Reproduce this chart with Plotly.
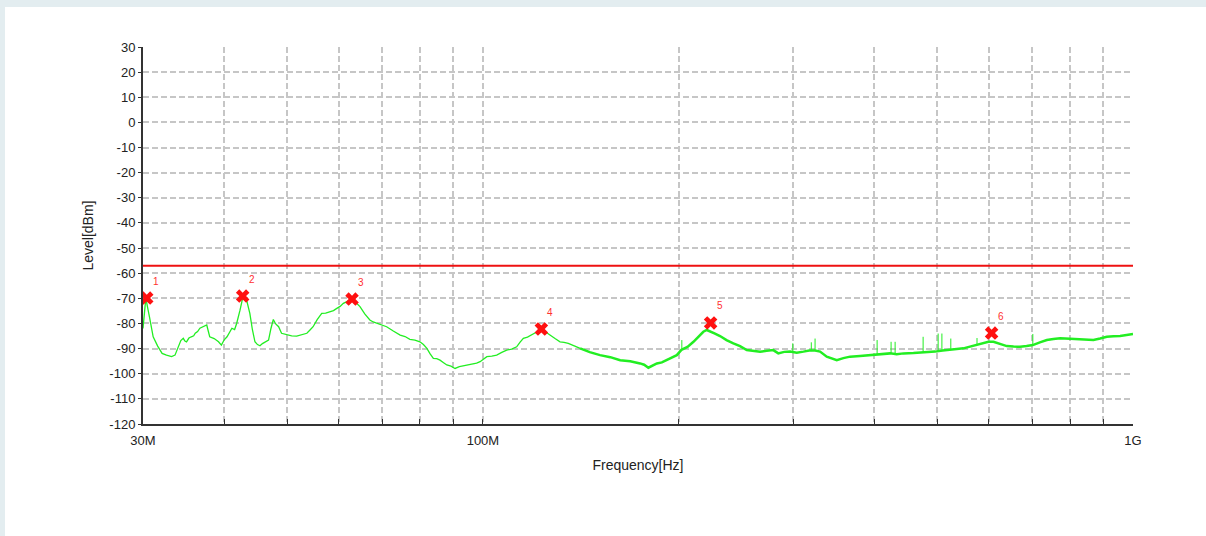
import math
import plotly.graph_objects as go

# ---- data ----
# low-frequency part of the measured trace (MHz, dBm)
low_mhz = [30.0, 30.3, 30.7, 31.1, 31.6, 32.1, 32.6, 33.2, 33.6, 34.0, 34.3, 34.6, 34.8, 35.0, 35.3,
           35.6, 35.9, 36.1, 36.4, 36.7, 37.1, 37.6, 37.8, 38.0, 38.6, 39.2, 39.6, 40.0, 40.4, 40.8,
           41.1, 41.5, 41.8, 42.3, 42.8, 43.3, 43.8, 44.2, 44.6, 45.0, 45.4, 45.8, 46.2, 46.8, 47.2,
           47.6, 48.0, 48.5, 49.0, 49.5, 49.9, 50.8, 51.7, 52.6, 53.6, 54.2, 54.8, 55.6, 56.5, 57.3,
           58.2, 58.9, 59.6, 60.3, 61.0, 61.9, 62.8, 63.7, 64.7, 65.8, 67.0, 67.8, 68.7, 69.8, 71.1,
           72.8, 74.6, 75.9, 77.2, 78.6, 80.0, 81.0, 82.0, 82.9, 83.9, 84.9, 85.9, 87.0, 88.0, 89.3,
           90.6, 92.0, 93.3, 95.0, 96.7, 97.8, 99.0, 100.2, 101.4, 103.2, 105.0, 106.9, 108.8, 110.7,
           112.7, 114.0, 115.4, 117.1, 118.9, 121.0, 123.2, 125.0, 126.8, 129.1, 131.4, 133.3, 135.3,
           138.2, 141.1]
low_dbm = [-82.0, -70.0, -77.5, -85.3, -89.0, -91.9, -92.6, -93.2, -92.6, -89.5, -86.8, -85.9, -87.0, -87.3, -85.8,
           -85.3, -84.9, -83.9, -83.2, -81.9, -81.4, -80.6, -83.0, -85.3, -86.0, -87.3, -88.6, -86.5, -85.3, -83.2,
           -81.9, -82.4, -80.0, -74.7, -68.7, -70.7, -76.0, -82.5, -87.3, -88.4, -88.9, -88.0, -87.3, -86.6, -82.0,
           -78.4, -80.2, -81.3, -83.9, -84.2, -84.6, -84.9, -85.0, -84.6, -83.9, -82.6, -81.3, -78.5, -76.0, -75.9,
           -75.3, -74.9, -74.0, -73.2, -72.0, -71.3, -70.4, -71.6, -73.3, -76.2, -78.6, -79.4, -79.9, -80.5, -81.3,
           -83.0, -84.6, -85.2, -86.3, -86.6, -87.3, -88.4, -89.9, -92.0, -93.9, -94.0, -94.6, -95.6, -96.5, -97.0,
           -97.9, -97.2, -96.9, -96.6, -96.3, -95.8, -95.2, -94.0, -93.2, -93.0, -92.6, -91.5, -90.6, -90.2,
           -89.3, -87.5, -85.9, -85.4, -84.6, -83.4, -82.3, -83.6, -84.6, -86.0, -87.3, -87.5, -87.9,
           -88.9, -89.9]

# high-frequency part of the measured trace (MHz, dBm)
high_mhz = [141.1, 146.0, 151.4, 157.0, 162.6, 168.5, 174.5, 177.0, 179.7, 182.5, 185.2, 188.5, 191.8,
            195.2, 198.7, 202.0, 206.4, 210.8, 214.5, 218.3, 221.0, 223.6, 227.5, 231.6, 237.0, 242.8,
            248.6, 254.6, 260.7, 266.9, 273.2, 279.7, 284.7, 290.7, 296.8, 303.9, 311.2, 317.7, 324.3,
            330.1, 338.0, 344.0, 350.2, 358.5, 367.1, 380.3, 394.1, 408.4, 423.0, 433.0, 443.5, 459.5,
            476.1, 486.0, 496.2, 509.5, 523.3, 535.6, 548.4, 561.6, 575.1, 587.0, 599.3, 610.0, 624.6,
            639.6, 655.0, 670.4, 686.0, 701.3, 719.0, 737.0, 754.5, 772.5, 800.0, 829.3, 849.0, 869.2,
            890.0, 911.4, 933.0, 955.3, 977.5, 1000.0]
high_dbm = [-89.9, -91.4, -92.6, -93.4, -94.6, -95.0, -95.9, -96.4, -97.6, -96.7, -95.9, -95.5, -94.6,
            -93.4, -92.6, -90.5, -89.3, -87.3, -85.3, -83.3, -82.6, -83.3, -84.0, -85.0, -86.6, -87.9,
            -89.0, -90.6, -90.8, -91.2, -90.9, -90.6, -91.9, -91.3, -91.2, -91.6, -91.2, -90.8, -90.8,
            -91.2, -93.2, -93.8, -94.6, -93.8, -93.2, -92.9, -92.6, -92.3, -91.9, -92.2, -91.9, -91.8,
            -91.6, -91.4, -91.2, -90.8, -90.6, -90.2, -89.9, -89.2, -88.6, -88.0, -87.3, -87.3, -88.3,
            -89.0, -89.2, -89.3, -89.0, -88.6, -87.5, -86.6, -86.2, -85.9, -86.1, -86.3, -86.5, -86.6,
            -86.0, -85.3, -85.1, -85.0, -84.6, -84.2]

# narrow spikes on the trace: frequency (MHz), base level, top level (dBm)
spike_mhz = [202.3, 299.7, 320.0, 324.3, 404.0, 424.5, 430.6, 475.5, 501.5, 508.2, 524.5, 575.5, 701.3]
spike_base = [-90.5, -91.3, -91.0, -90.8, -92.3, -92.0, -92.0, -91.6, -91.0, -90.8, -90.5, -88.6, -88.6]
spike_top = [-86.6, -87.9, -87.5, -86.0, -86.6, -87.3, -87.3, -85.3, -84.0, -84.0, -86.0, -85.8, -84.2]

limit_mhz = [30.0, 1000.0]
limit_dbm = [-57.0, -57.0]

peak_mhz = [30.4, 42.7, 62.9, 123.0, 224.0, 606.0]
peak_dbm = [-69.9, -69.1, -70.3, -82.2, -79.8, -83.8]
peak_labels = ["1", "2", "3", "4", "5", "6"]

x_tick_mhz = [30, 40, 50, 60, 70, 80, 90, 100, 200, 300, 400, 500, 600, 700, 800, 900, 1000]
x_tick_text = ["30M", "", "", "", "", "", "", "100M", "", "", "", "", "", "", "", "", "1G"]
y_ticks = [30, 20, 10, 0, -10, -20, -30, -40, -50, -60, -70, -80, -90, -100, -110, -120]
y_tick_text = ["30", "20", "10", "0", "-10", "-20", "-30", "-40", "-50", "-60", "-70", "-80",
               "-90", "-100", "-110", "-120"]

# ---- figure ----
def hz(v):
    return [f * 1e6 for f in v]

GREEN = "#22ee22"
fig = go.Figure()
fig.add_trace(go.Scatter(x=hz(low_mhz), y=low_dbm, mode="lines",
                         line=dict(color=GREEN, width=1.3), hoverinfo="skip", showlegend=False))
fig.add_trace(go.Scatter(x=hz(high_mhz), y=high_dbm, mode="lines",
                         line=dict(color=GREEN, width=2.5), hoverinfo="skip", showlegend=False))
sx, sy = [], []
for f, b, t in zip(spike_mhz, spike_base, spike_top):
    sx += [f * 1e6, f * 1e6, None]
    sy += [b, t, None]
fig.add_trace(go.Scatter(x=sx, y=sy, mode="lines", line=dict(color=GREEN, width=1),
                         hoverinfo="skip", showlegend=False, connectgaps=False))
fig.add_trace(go.Scatter(x=hz(limit_mhz), y=limit_dbm, mode="lines",
                         line=dict(color="#ee1111", width=2), showlegend=False))
fig.add_trace(go.Scatter(x=hz(peak_mhz), y=peak_dbm, mode="markers",
                         marker=dict(symbol="x", size=12, color="#ff1010", line=dict(width=0)),
                         showlegend=False))
for f, l, t in zip(peak_mhz, peak_dbm, peak_labels):
    fig.add_annotation(x=math.log10(f * 1e6), y=l, text=t, showarrow=False,
                       xshift=9, yshift=17, font=dict(size=10, color="#ff3030"))

# page frame: light strip on top/left, white panel elsewhere
fig.add_shape(type="rect", xref="paper", yref="paper", x0=-0.1394, x1=1.08, y0=-0.31, y1=1.1061,
              fillcolor="white", line=dict(width=0), layer="below")

grid = dict(showgrid=True, gridcolor="#c6c6c6", gridwidth=1.5, griddash="6px,3px")
fig.update_xaxes(type="log", range=[math.log10(30e6), 9.0], tickvals=hz(x_tick_mhz), ticktext=x_tick_text,
                 ticks="inside", ticklen=5, tickcolor="#333", tickwidth=1,
                 showline=True, linecolor="#333", linewidth=2, zeroline=False,
                 tickfont=dict(size=13, color="#222"), ticklabelstandoff=3,
                 title=dict(text="Frequency[Hz]", font=dict(size=14, color="#222"), standoff=14), **grid)
fig.update_yaxes(range=[-120, 30], tickvals=y_ticks, ticktext=y_tick_text, ticks="outside", ticklen=3,
                 tickcolor="#333", showline=True, linecolor="#333", linewidth=2, zeroline=False,
                 tickfont=dict(size=13, color="#222"),
                 title=dict(text="Level[dBm]", font=dict(size=14, color="#222"), standoff=12), **grid)
fig.update_layout(width=1206, height=536, margin=dict(l=143, r=73, t=47, b=112),
                  paper_bgcolor="#e3edf0", plot_bgcolor="white",
                  font=dict(family="Liberation Sans, Arial, sans-serif"))
fig.write_html("out.html", config={"displayModeBar": False},
               post_script="document.body.style.margin='0';")
